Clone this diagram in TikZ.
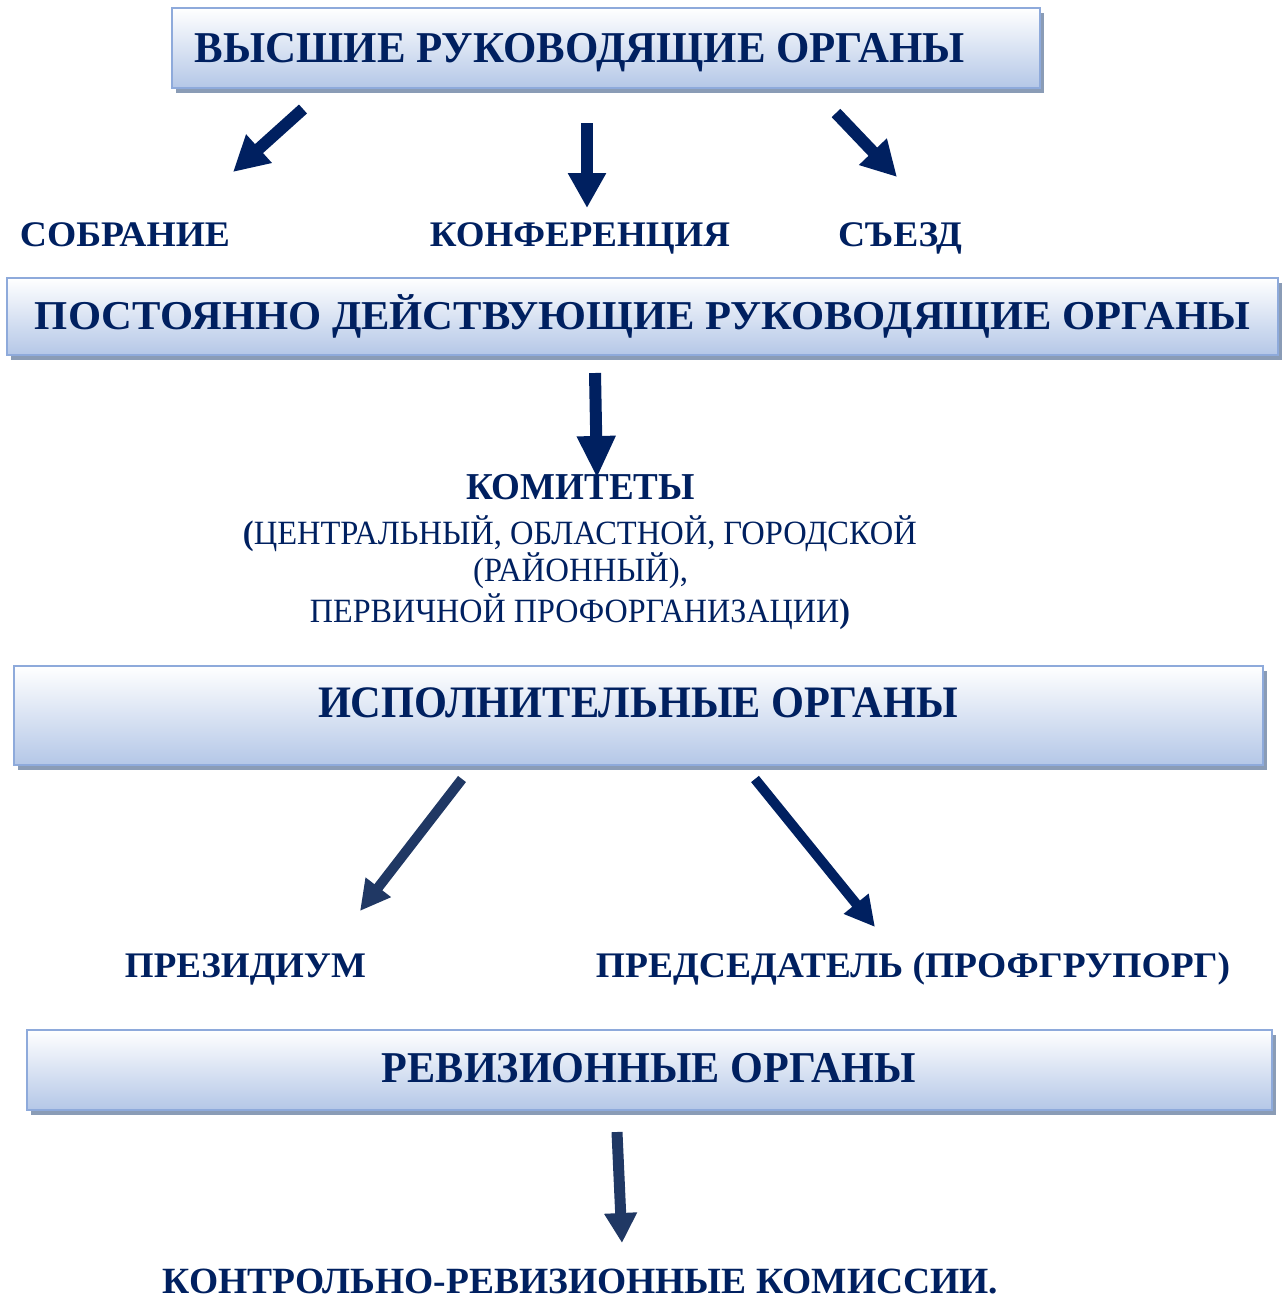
\documentclass[tikz,border=0pt]{standalone}
\usepackage{fontspec}
\setmainfont{Liberation Serif}
\usepackage{graphicx}
\usetikzlibrary{arrows.meta,shadows}
\definecolor{navy}{HTML}{002060}
\definecolor{navyb}{HTML}{203864}
\definecolor{boxline}{HTML}{8EAADB}
\definecolor{boxbot}{HTML}{B4C7E7}
\definecolor{shadowc}{RGB}{138,156,182}
\newcommand\fitw[3]{\resizebox{#1}{\height}{\fontsize{#2}{#2}\selectfont #3}}
\tikzset{
  orgbox/.style={rectangle, draw=boxline, line width=2pt, top color=white, bottom color=boxbot,
    drop shadow={shadow xshift=4pt, shadow yshift=-5pt, fill=shadowc, opacity=1},
    inner sep=0pt},
  txt/.style={anchor=base, inner sep=0pt, text=navy, font=\bfseries},
  rtxt/.style={anchor=base, inner sep=0pt, text=navy},
  bigarr/.style={draw=navy, line width=12pt, -{Triangle[width=36pt,length=35pt]}},
  midarr/.style={line width=10pt, -{Triangle[width=30pt,length=30pt]}}
}
\begin{document}
\begin{tikzpicture}[x=1pt,y=-1pt]
\useasboundingbox (0,0) rectangle (1284,1299);
% boxes
\node[orgbox, minimum width=868pt, minimum height=80pt] (b1) at (606,48) {};
\node[orgbox, minimum width=1271pt, minimum height=77pt] (b2) at (642.5,316.5) {};
\node[orgbox, minimum width=1249pt, minimum height=99pt] (b3) at (638.5,715.5) {};
\node[orgbox, minimum width=1245pt, minimum height=80pt] (b4) at (649.5,1070) {};
% box titles
\node[txt] (t1) at (580,62) {\fitw{770pt}{44}{ВЫСШИЕ РУКОВОДЯЩИЕ ОРГАНЫ}};
\node[txt] (t2) at (642.5,329) {\fitw{1215pt}{41}{ПОСТОЯННО ДЕЙСТВУЮЩИЕ РУКОВОДЯЩИЕ ОРГАНЫ}};
\node[txt] (t3) at (638,717) {\fitw{640pt}{45}{ИСПОЛНИТЕЛЬНЫЕ ОРГАНЫ}};
\node[txt] (t4) at (649,1082) {\fitw{534pt}{44}{РЕВИЗИОННЫЕ ОРГАНЫ}};
% labels
\node[txt] (sob) at (125,246) {\fitw{210pt}{36}{СОБРАНИЕ}};
\node[txt] (konf) at (580,246) {\fitw{300pt}{36}{КОНФЕРЕНЦИЯ}};
\node[txt] (sez) at (900,246) {\fitw{124pt}{36}{СЪЕЗД}};
\node[txt] (kom) at (580.5,499) {\fitw{229pt}{38}{КОМИТЕТЫ}};
\node[rtxt] (kom2) at (580,544) {\fitw{674pt}{34}{\textbf{(}ЦЕНТРАЛЬНЫЙ, ОБЛАСТНОЙ, ГОРОДСКОЙ}};
\node[rtxt] (kom3) at (580.5,581) {\fitw{215pt}{34}{(РАЙОННЫЙ),}};
\node[rtxt] (kom4) at (580,622) {\fitw{540pt}{34}{ПЕРВИЧНОЙ ПРОФОРГАНИЗАЦИИ\textbf{)}}};
\node[txt] (prez) at (245.5,977) {\fitw{241pt}{36}{ПРЕЗИДИУМ}};
\node[txt] (pred) at (913,977) {\fitw{634pt}{36}{ПРЕДСЕДАТЕЛЬ (ПРОФГРУПОРГ)}};
\node[txt] (krk) at (580.5,1293) {\fitw{835pt}{37}{КОНТРОЛЬНО-РЕВИЗИОННЫЕ КОМИССИИ.}};
% arrow ends
\coordinate (a1s) at (303,109); \coordinate (a1e) at (233,172);
\coordinate (a2s) at (587,123); \coordinate (a2e) at (587,208);
\coordinate (a3s) at (836,113); \coordinate (a3e) at (897,177);
\coordinate (a4s) at (595,373); \coordinate (a4e) at (597,478);
\coordinate (a5s) at (462,779); \coordinate (a5e) at (360,911);
\coordinate (a6s) at (755,779); \coordinate (a6e) at (875,927);
\coordinate (a7s) at (617,1132); \coordinate (a7e) at (622,1243);
% arrows
\draw[bigarr] (a1s) -- (a1e);
\draw[bigarr] (a2s) -- (a2e);
\draw[bigarr] (a3s) -- (a3e);
\draw[bigarr, -{Triangle[width=36pt,length=42pt]}] (a4s) -- (a4e);
\draw[midarr, draw=navyb] (a5s) -- (a5e);
\draw[midarr, draw=navy] (a6s) -- (a6e);
\draw[midarr, draw=navyb, line width=11pt, -{Triangle[width=31pt,length=30pt]}] (a7s) -- (a7e);
\end{tikzpicture}
\end{document}
